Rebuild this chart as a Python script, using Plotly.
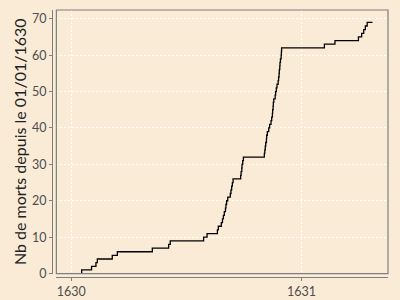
import plotly.graph_objects as go

# Event dates (fractional years) and cumulative deaths since 01/01/1630
years = [1630.000, 1630.045, 1630.088, 1630.107, 1630.113, 1630.178, 1630.200, 1630.352,
         1630.423, 1630.430, 1630.575, 1630.590, 1630.635, 1630.639, 1630.652, 1630.657,
         1630.661, 1630.665, 1630.670, 1630.672, 1630.675, 1630.680, 1630.691, 1630.694,
         1630.697, 1630.700, 1630.703, 1630.736, 1630.738, 1630.741, 1630.742, 1630.745,
         1630.748, 1630.839, 1630.841, 1630.843, 1630.845, 1630.848, 1630.849, 1630.852,
         1630.858, 1630.862, 1630.868, 1630.871, 1630.874, 1630.875, 1630.877, 1630.878,
         1630.880, 1630.886, 1630.888, 1630.891, 1630.894, 1630.899, 1630.901, 1630.903,
         1630.904, 1630.906, 1630.907, 1630.909, 1630.912, 1630.913, 1630.914, 1631.100,
         1631.146, 1631.248, 1631.262, 1631.271, 1631.278, 1631.286, 1631.309]
deaths = [0, 1, 2, 3, 4, 5, 6, 7,
          8, 9, 10, 11, 12, 13, 14, 15,
          16, 17, 18, 19, 20, 21, 22, 23,
          24, 25, 26, 27, 28, 29, 30, 31,
          32, 33, 34, 35, 36, 37, 38, 39,
          40, 41, 42, 43, 44, 45, 46, 47,
          48, 49, 50, 51, 52, 53, 54, 55,
          56, 57, 58, 59, 60, 61, 62, 63,
          64, 65, 66, 67, 68, 69, 69]

x_ticks = [1630, 1631]
x_labels = ["1630", "1631"]
y_ticks = [0, 10, 20, 30, 40, 50, 60, 70]
y_title = "Nb de morts depuis le 01/01/1630"

bg = "#FAEBD7"
grey = "#7F7F7F"

fig = go.Figure()
fig.add_trace(go.Scatter(x=years, y=deaths, mode="lines",
                         line=dict(color="black", width=1.3, shape="hv"),
                         showlegend=False, hoverinfo="skip"))

fig.update_layout(
    width=400, height=300,
    paper_bgcolor=bg, plot_bgcolor=bg,
    margin=dict(l=52, r=12, t=10, b=23),
    font=dict(family="Lato", size=12, color="#4D4D4D"),
    xaxis=dict(domain=[0.013, 1], anchor="free", position=0, automargin=False,
               range=[1629.935, 1631.3765],
               tickvals=x_ticks, ticktext=x_labels,
               showline=True, linecolor=grey, linewidth=1.2,
               ticks="outside", ticklen=3, tickcolor=grey, tickwidth=1,
               showgrid=True, gridcolor="white", griddash="2px,2px", gridwidth=0.5,
               zeroline=False, tickfont=dict(size=12.5, color="#4D4D4D")),
    yaxis=dict(domain=[0.0128, 1], anchor="free", position=0, automargin=False,
               range=[0, 72.4],
               tickvals=y_ticks,
               showline=True, linecolor=grey, linewidth=1.2,
               ticks="outside", ticklen=3, tickcolor=grey, tickwidth=1,
               showgrid=True, gridcolor="white", griddash="2px,2px", gridwidth=0.5,
               zeroline=False, tickfont=dict(size=12.5, color="#4D4D4D"),
               title=dict(text=y_title, font=dict(size=16, color="#222222"), standoff=0)),
    shapes=[dict(type="rect", xref="x domain", yref="y domain",
                 x0=0, x1=1, y0=0, y1=1,
                 line=dict(color=grey, width=1.2), layer="above")],
)

fig.write_html("out.html")
